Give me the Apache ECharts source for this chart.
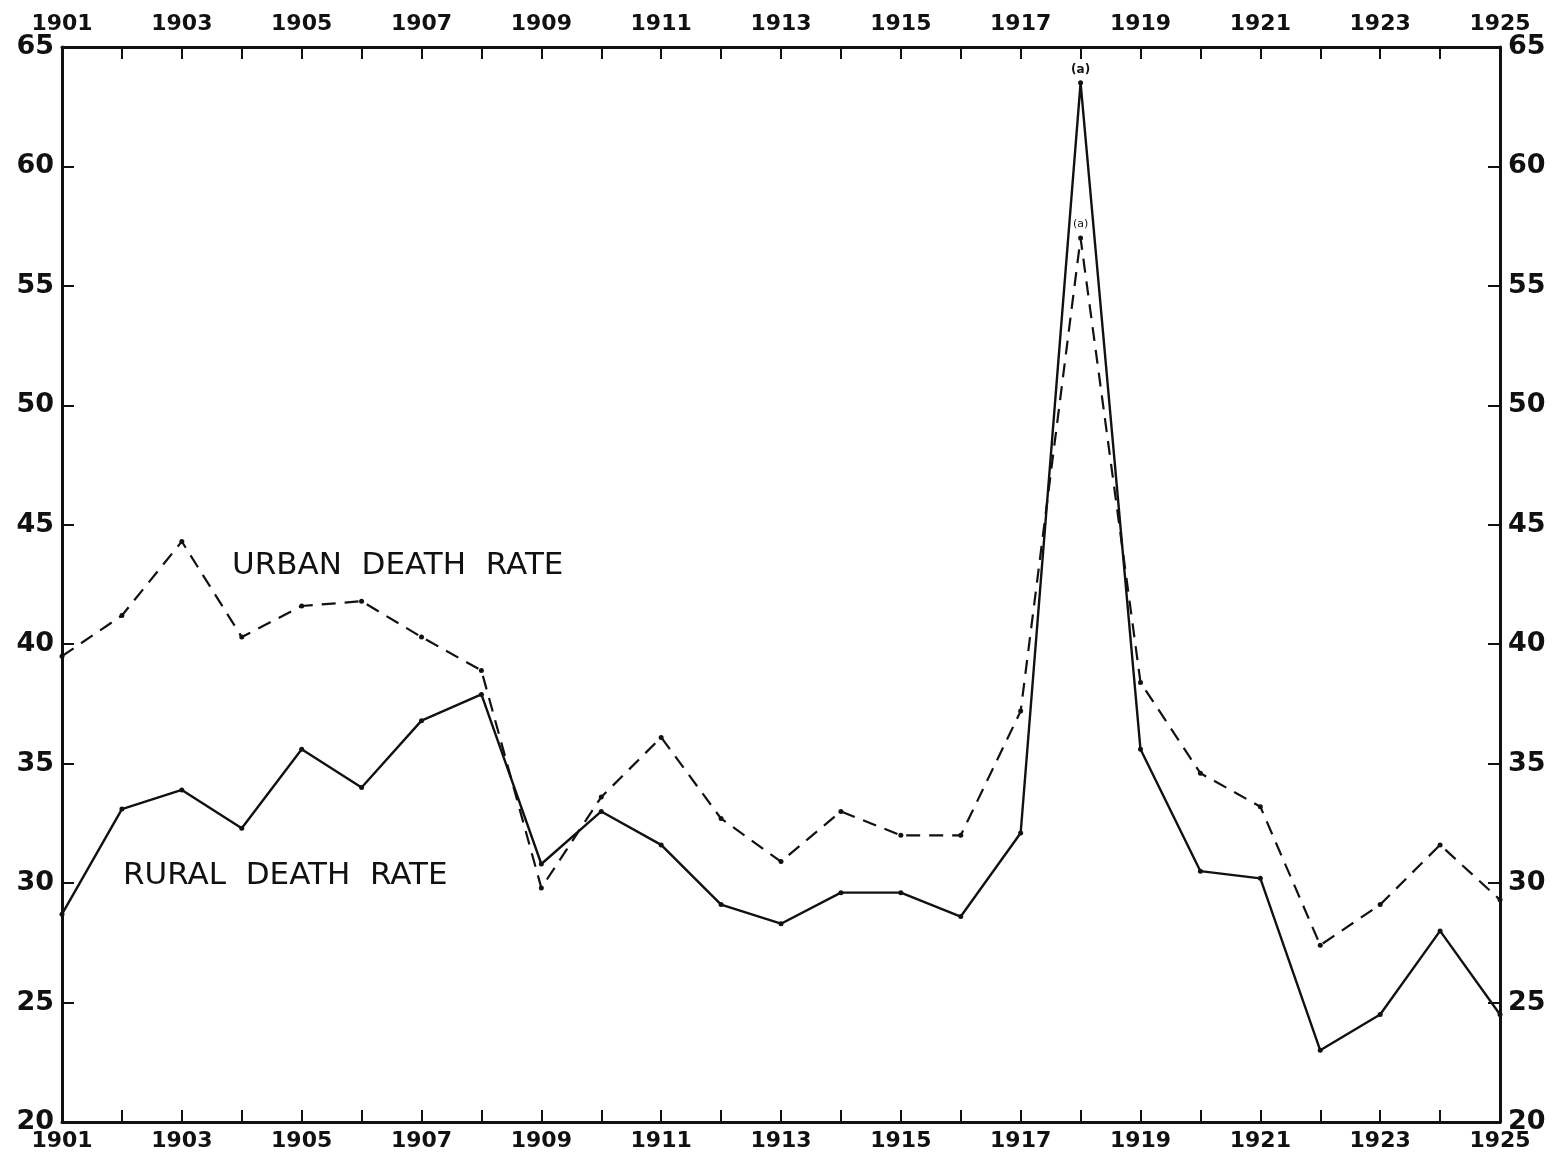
<!DOCTYPE html>
<html>
<head>
<meta charset="utf-8">
<script src="https://cdn.jsdelivr.net/npm/echarts@6/dist/echarts.min.js"></script>
<style>
  html, body { margin: 0; padding: 0; background: #fff; }
  #main { width: 1563px; height: 1167px; }
</style>
</head>
<body>
<div id="main"></div>
<script>
// years on the x axis
var years = ['1901','1902','1903','1904','1905','1906','1907','1908','1909','1910','1911','1912','1913',
             '1914','1915','1916','1917','1918','1919','1920','1921','1922','1923','1924','1925'];
// urban death rate (dashed)
var urbanRate = [39.5, 41.2, 44.3, 40.3, 41.6, 41.8, 40.3, 38.9, 29.8, 33.6, 36.1, 32.7, 30.9,
                 33.0, 32.0, 32.0, 37.2, 57.0, 38.4, 34.6, 33.2, 27.4, 29.1, 31.6, 29.3];
// rural death rate (solid)
var ruralRate = [28.7, 33.1, 33.9, 32.3, 35.6, 34.0, 36.8, 37.9, 30.8, 33.0, 31.6, 29.1, 28.3,
                 29.6, 29.6, 28.6, 32.1, 63.5, 35.6, 30.5, 30.2, 23.0, 24.5, 28.0, 24.5];
var yTicks = [20, 25, 30, 35, 40, 45, 50, 55, 60, 65];
var noteYear = '1918';

var font = '"DejaVu Sans", sans-serif';
var ink = '#111';

function xAxisDef(pos) {
  return {
    type: 'category',
    position: pos,
    data: years,
    boundaryGap: false,
    axisLine: { show: true, lineStyle: { color: ink, width: 3 } },
    axisTick: { show: true, inside: true, interval: 0, length: 12, lineStyle: { color: ink, width: 2 } },
    axisLabel: {
      interval: 1, color: ink, fontFamily: font, fontSize: 22, fontWeight: 'bold',
      margin: pos === 'top' ? 12 : 8
    },
    splitLine: { show: false }
  };
}

function yAxisDef(pos) {
  return {
    type: 'value',
    position: pos,
    min: yTicks[0],
    max: yTicks[yTicks.length - 1],
    interval: 5,
    axisLine: { show: true, lineStyle: { color: ink, width: 3 } },
    axisTick: { show: true, inside: true, length: 12, lineStyle: { color: ink, width: 2 } },
    axisLabel: { color: ink, fontFamily: font, fontSize: 27, fontWeight: 'bold', margin: 8 },
    splitLine: { show: false }
  };
}

var chart = echarts.init(document.getElementById('main'));
chart.setOption({
  backgroundColor: '#fff',
  animation: false,
  grid: { left: 62, right: 63, top: 47, bottom: 45, containLabel: false },
  xAxis: [xAxisDef('bottom'), xAxisDef('top')],
  yAxis: [yAxisDef('left'), yAxisDef('right')],
  series: [
    {
      name: 'URBAN DEATH RATE',
      type: 'line',
      data: urbanRate,
      symbol: 'circle',
      symbolSize: 5,
      itemStyle: { color: ink },
      lineStyle: { color: ink, width: 2.2, type: [14, 9] },
      label: {
        show: true, position: 'top', distance: 6, color: ink, fontFamily: font, fontSize: 11,
        formatter: function (p) { return p.name === noteYear ? '(a)' : ''; }
      }
    },
    {
      name: 'RURAL DEATH RATE',
      type: 'line',
      data: ruralRate,
      symbol: 'circle',
      symbolSize: 5,
      itemStyle: { color: ink },
      lineStyle: { color: ink, width: 2.4 },
      label: {
        show: true, position: 'top', distance: 4, color: ink, fontFamily: font, fontSize: 12, fontWeight: 'bold',
        formatter: function (p) { return p.name === noteYear ? '(a)' : ''; }
      }
    }
  ],
  graphic: [
    { type: 'text', left: 232, top: 550,
      style: { text: 'URBAN  DEATH  RATE', fill: ink, font: '500 31px ' + font } },
    { type: 'text', left: 123, top: 860,
      style: { text: 'RURAL  DEATH  RATE', fill: ink, font: '500 31px ' + font } }
  ]
});
</script>
</body>
</html>
